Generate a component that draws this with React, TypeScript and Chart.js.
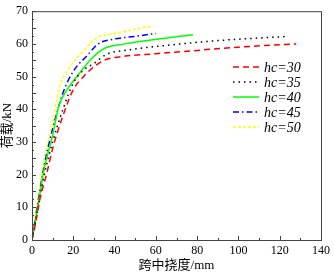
import React, { useEffect, useRef } from 'react';
import { Chart, registerables } from 'chart.js';
Chart.register(...registerables);

const seriesLabels = ['hc=30', 'hc=35', 'hc=40', 'hc=45', 'hc=50'];
const seriesColors = ['#ff0000', '#000000', '#00ff00', '#0000ff', '#ffff00'];
const seriesDashes = [[6, 4], [1.5, 4], [], [6, 3, 1.5, 3], [3, 2]];

const hc30X = [0, 2, 4, 7, 10, 15, 20, 25, 30, 35, 40, 60, 80, 100, 128];
const hc30Y = [0, 6, 13, 20, 28, 38, 46, 50, 53, 55, 55.8, 57, 58, 59, 60];
const hc35X = [0, 3, 6, 10, 15, 20, 25, 30, 36, 45, 66, 90, 124];
const hc35Y = [0, 10, 20, 30, 40, 48, 52, 54, 56.8, 58, 59.6, 61, 62.3];
const hc40X = [0, 3, 6, 10, 13, 17, 23, 29, 35, 45, 66, 78];
const hc40Y = [0, 11, 22, 32, 41, 46, 51, 55.6, 58.6, 60, 61.9, 62.8];
const hc45X = [0, 3, 6, 10, 15, 20, 27, 32, 40, 50, 60];
const hc45Y = [0, 12, 23, 34, 45, 51.6, 56.6, 60, 61.5, 62.3, 63.2];
const hc50X = [0, 3, 6, 10, 13, 18, 24.5, 32, 40, 50, 58.7];
const hc50Y = [0, 13, 25, 36, 46, 52.6, 57.6, 62, 63.2, 64.5, 65.5];

const seriesX = [hc30X, hc35X, hc40X, hc45X, hc50X];
const seriesY = [hc30Y, hc35Y, hc40Y, hc45Y, hc50Y];

const xTitle = '跨中挠度/mm';
const yTitle = '荷载/kN';

const FONT = "'Liberation Serif', 'Noto Sans CJK SC', serif";

const framePlugin = {
  id: 'frameTicks',
  afterDraw(chart: any) {
    const { ctx, chartArea: a, scales } = chart;
    const x = scales.x, y = scales.y;
    ctx.save();
    ctx.strokeStyle = '#444';
    ctx.lineWidth = 1;
    ctx.setLineDash([]);
    ctx.strokeRect(a.left + 0.5, a.top + 0.5, a.right - a.left, a.bottom - a.top);
    ctx.beginPath();
    for (let v = 0; v <= 140; v += 10) {
      const px = Math.round(x.getPixelForValue(v)) + 0.5;
      const len = v % 20 === 0 ? 4 : 2;
      ctx.moveTo(px, a.bottom);
      ctx.lineTo(px, a.bottom - len);
    }
    for (let v = 0; v <= 70; v += 2.5) {
      const py = Math.round(y.getPixelForValue(v)) + 0.5;
      const len = v % 5 === 0 ? 4 : 2;
      ctx.moveTo(a.left, py);
      ctx.lineTo(a.left + len, py);
    }
    ctx.stroke();

    // legend
    const lx0 = 233, lx1 = 259, tx = 264, ly0 = 67, dy = 15;
    chart.data.datasets.forEach((ds: any, i: number) => {
      const yy = ly0 + i * dy;
      ctx.strokeStyle = ds.borderColor;
      ctx.lineWidth = 1.5;
      ctx.setLineDash(ds.borderDash || []);
      ctx.beginPath();
      ctx.moveTo(lx0, yy);
      ctx.lineTo(lx1, yy);
      ctx.stroke();
      ctx.setLineDash([]);
      ctx.fillStyle = '#000';
      ctx.font = "italic 14px 'Liberation Serif', serif";
      ctx.textBaseline = 'middle';
      ctx.textAlign = 'left';
      ctx.fillText(ds.label, tx, yy + 1);
    });
    ctx.restore();
  },
};

export default function App() {
  const ref = useRef<HTMLCanvasElement>(null);
  useEffect(() => {
    const datasets = seriesLabels.map((label, i) => ({
      label,
      data: seriesX[i].map((xv, j) => ({ x: xv, y: seriesY[i][j] })),
      borderColor: seriesColors[i],
      backgroundColor: seriesColors[i],
      borderDash: seriesDashes[i],
      borderWidth: 1.5,
      pointRadius: 0,
      cubicInterpolationMode: 'monotone' as const,
      fill: false,
    }));
    const chart = new Chart(ref.current!, {
      type: 'line',
      data: { datasets },
      options: {
        animation: false,
        responsive: false,
        maintainAspectRatio: false,
        layout: { padding: { top: 5, right: 8, left: 0, bottom: 0 }, autoPadding: false } as any,
        plugins: { legend: { display: false }, tooltip: { enabled: false } },
        scales: {
          x: {
            type: 'linear',
            min: 0,
            max: 140,
            ticks: { stepSize: 20, color: '#000', font: { family: FONT, size: 12 }, padding: 4, maxRotation: 0 },
            grid: { display: false, drawTicks: false },
            border: { display: false },
            title: { display: true, text: xTitle, color: '#000', font: { family: FONT, size: 13 }, padding: { top: 2, bottom: 0 } },
            afterFit: (s: any) => { s.height = 33; },
          },
          y: {
            type: 'linear',
            min: 0,
            max: 70,
            ticks: { stepSize: 5, color: '#000', font: { family: FONT, size: 12 }, padding: 4 },
            grid: { display: false, drawTicks: false },
            border: { display: false },
            title: { display: true, text: yTitle, color: '#000', font: { family: FONT, size: 13 }, padding: { top: 0, bottom: 0 } },
            afterFit: (s: any) => { s.width = 32; },
          },
        },
      },
      plugins: [framePlugin],
    });
    return () => chart.destroy();
  }, []);
  return (
    <div style={{ position: 'absolute', left: 0, top: 0, width: 334, height: 273, background: '#fff' }}>
      <canvas ref={ref} width={334} height={273} style={{ width: 334, height: 273, display: 'block' }} />
    </div>
  );
}
